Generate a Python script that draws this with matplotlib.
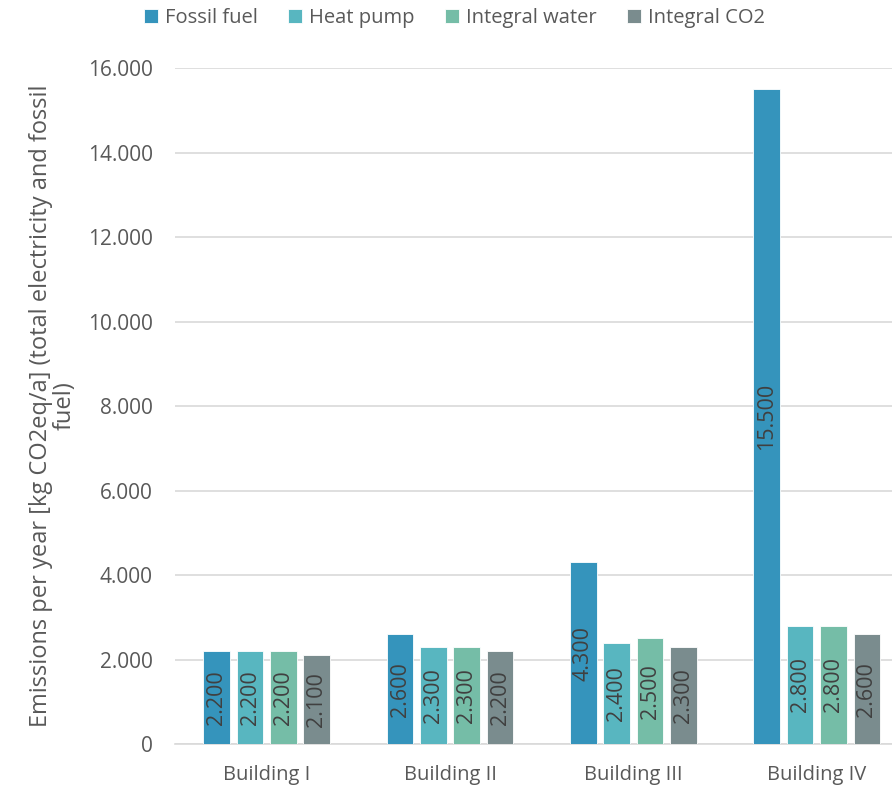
import numpy as np
import matplotlib
matplotlib.use('Agg')
import matplotlib.pyplot as plt
from matplotlib.ticker import FuncFormatter

plt.rcParams['font.family'] = ['Open Sans', 'DejaVu Sans']

buildings = ['Building I', 'Building II', 'Building III', 'Building IV']
series_names = ['Fossil fuel', 'Heat pump', 'Integral water', 'Integral CO2']
fossil_fuel = [2200, 2600, 4300, 15500]
heat_pump = [2200, 2300, 2400, 2800]
integral_water = [2200, 2300, 2500, 2800]
integral_co2 = [2100, 2200, 2300, 2600]
colors = ['#3594BC', '#58B6C0', '#75BDA7', '#7A8C8E']

text_color = '#595959'


def dot_thousands(v, pos=None):
    return f'{int(round(v)):,}'.replace(',', '.')


fig = plt.figure(figsize=(8.92, 7.88), dpi=100)
ax = fig.add_axes([0.1962, 0.0558, 0.8038, 0.8579])

x = np.arange(len(buildings))
step = 0.182
width = 0.145
all_series = [fossil_fuel, heat_pump, integral_water, integral_co2]

for i, (name, vals, col) in enumerate(zip(series_names, all_series, colors)):
    pos = x + (i - 1.5) * step
    bars = ax.bar(pos, vals, width, color=col, edgecolor='white', linewidth=0.6,
                  label=name, zorder=3)
    for b, v in zip(bars, vals):
        ax.text(b.get_x() + b.get_width() / 2, v / 2, dot_thousands(v),
                rotation=90, ha='center', va='center', fontsize=15.5,
                color='#404040', zorder=4)

ax.set_xlim(-0.5, 3.41)
ax.set_ylim(0, 16000)
ax.set_yticks(np.arange(0, 16001, 2000))
ax.yaxis.set_major_formatter(FuncFormatter(dot_thousands))
ax.set_xticks(x)
ax.set_xticklabels(buildings)

ax.grid(axis='y', color='#D9D9D9', linewidth=1.2, zorder=0)
for s in ['top', 'right', 'left']:
    ax.spines[s].set_visible(False)
ax.spines['bottom'].set_color('#D9D9D9')
ax.spines['bottom'].set_linewidth(1.2)
ax.tick_params(axis='y', length=0, pad=16, labelsize=15, labelcolor=text_color)
ax.tick_params(axis='x', length=0, pad=15, labelsize=14.5, labelcolor=text_color)

ax.set_ylabel('Emissions per year [kg CO2eq/a] (total electricity and fossil\nfuel)',
              fontsize=17, color=text_color, labelpad=8, linespacing=1.0)

fig.legend(loc='upper left', bbox_to_anchor=(0.141, 1.013), ncol=4, frameon=False,
           fontsize=14.5, labelcolor=text_color, handlelength=0.7, handleheight=0.7,
           handletextpad=0.35, columnspacing=1.5)

fig.savefig('out.png', dpi=100)
